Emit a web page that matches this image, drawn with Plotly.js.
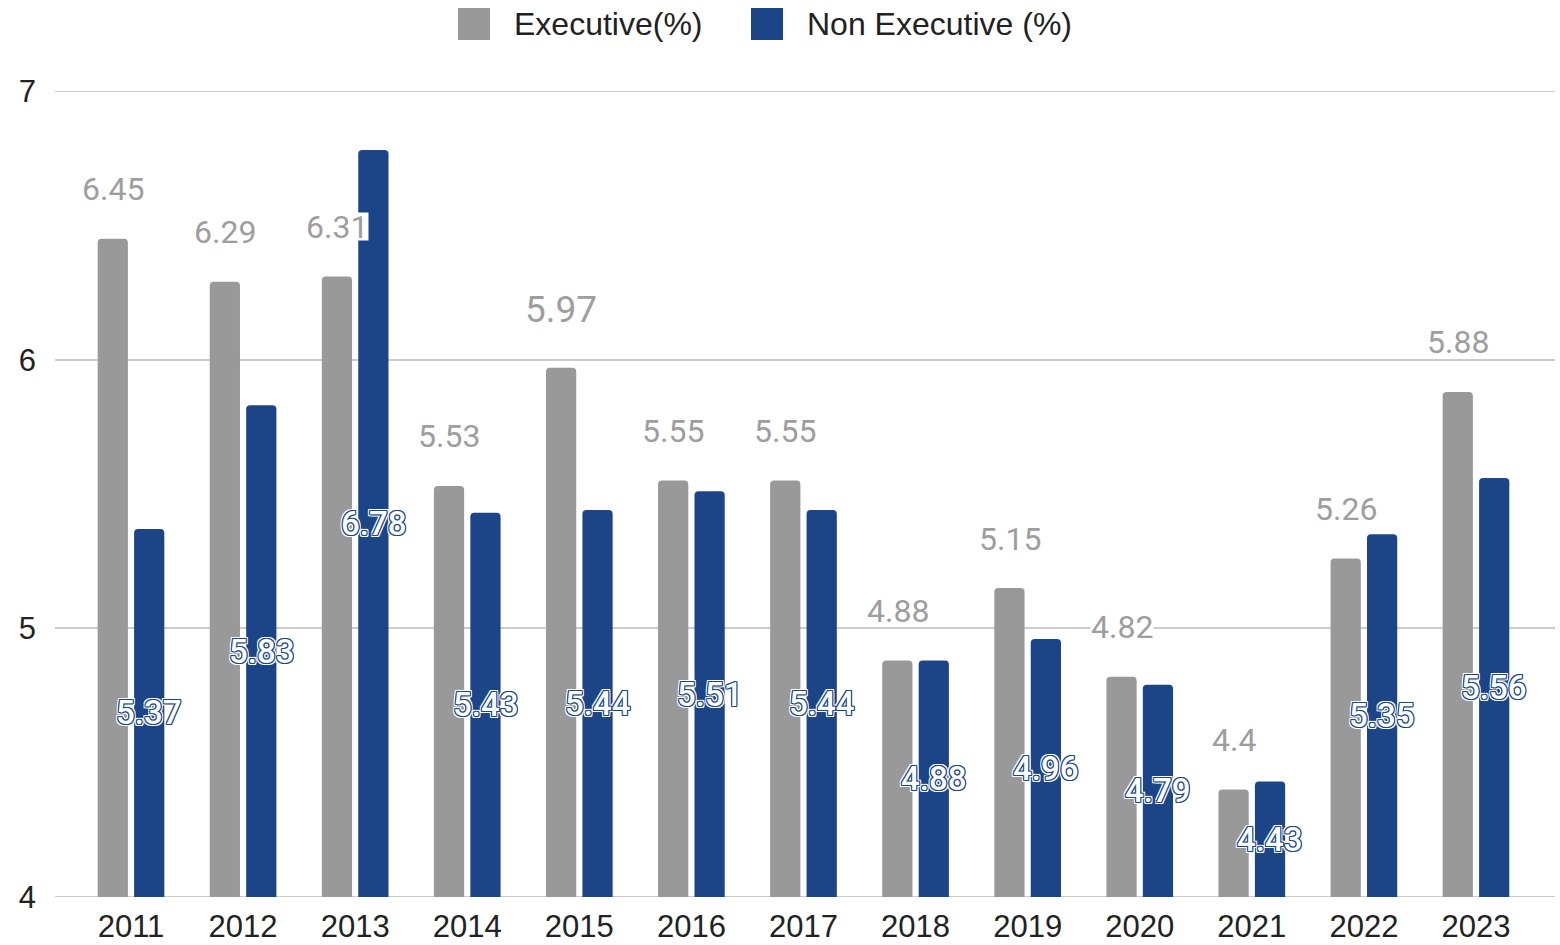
<!DOCTYPE html>
<html>
<head>
<meta charset="utf-8">
<script src="https://cdn.plot.ly/plotly-3.0.1.min.js"></script>
<style>html,body{margin:0;padding:0;background:#fff;}#chart{width:1560px;height:945px;}</style>
</head>
<body>
<div id="chart"></div>
<script>
const years = ['2011','2012','2013','2014','2015','2016','2017','2018','2019','2020','2021','2022','2023'];
const executive = [6.45, 6.29, 6.31, 5.53, 5.97, 5.55, 5.55, 4.88, 5.15, 4.82, 4.4, 5.26, 5.88];
const nonExecutive = [5.37, 5.83, 6.78, 5.43, 5.44, 5.51, 5.44, 4.88, 4.96, 4.79, 4.43, 5.35, 5.56];
const seriesNames = ['Executive(%)', 'Non Executive (%)'];
const yTicks = [4, 5, 6, 7];
const yBase = 4;

const GREY = '#999999';
const BLUE = '#1c4587';
const GRID = '#cccccc';
const axisFont = {family: 'Liberation Sans, Arial, sans-serif', size: 31, color: '#222222'};
const outline = [
  '1px 0 0 ' + BLUE, '-1px 0 0 ' + BLUE, '0 1px 0 ' + BLUE, '0 -1px 0 ' + BLUE,
  '1px 1px 0 ' + BLUE, '-1px -1px 0 ' + BLUE, '1px -1px 0 ' + BLUE, '-1px 1px 0 ' + BLUE,
  '2px 0 0 #fff', '-2px 0 0 #fff', '0 2px 0 #fff', '0 -2px 0 #fff',
  '2px 2px 0 #fff', '-2px -2px 0 #fff', '2px -2px 0 #fff', '-2px 2px 0 #fff'
].join(', ');

const traces = [
  {
    type: 'bar', name: seriesNames[0], x: years, y: executive,
    marker: {color: GREY, cornerradius: 4},
    hoverinfo: 'x+y', showlegend: false
  },
  {
    type: 'bar', name: seriesNames[1], x: years, y: nonExecutive,
    marker: {color: BLUE, cornerradius: 4},
    hoverinfo: 'x+y', showlegend: false
  }
];

// grey labels above the Executive bars
const annotations = executive.map((v, i) => ({
  x: i, y: v, xref: 'x', yref: 'y',
  text: String(v), showarrow: false,
  xshift: -18, yshift: i === 4 ? 58 : 50,
  font: {family: 'Roboto, sans-serif', size: i === 4 ? 37 : 32, color: '#9e9e9e'},
  bgcolor: '#ffffff', borderpad: 0, height: i === 4 ? 31 : 27, valign: 'middle'
}));

// outlined white labels centred in the Non Executive bars
nonExecutive.forEach((v, i) => annotations.push({
  x: i, y: (yBase + v) / 2, xref: 'x', yref: 'y',
  text: String(v), showarrow: false, xshift: 18,
  font: {family: 'Roboto, sans-serif', size: 33, weight: 500, color: '#ffffff', shadow: outline}
}));

// custom legend drawn at the reference's legend position
const legendItems = [
  {color: GREY, x0: 458, text: seriesNames[0], tx: 512},
  {color: BLUE, x0: 751, text: seriesNames[1], tx: 805}
];
const L = 55, W = 1500, T = 91, H = 806;
const px = x => (x - L) / W;
const py = y => (T + H - y) / H;
const shapes = legendItems.map(it => ({
  type: 'rect', xref: 'paper', yref: 'paper',
  x0: px(it.x0), x1: px(it.x0 + 32), y0: py(40), y1: py(8),
  fillcolor: it.color, line: {width: 0}
}));
legendItems.forEach(it => annotations.push({
  xref: 'paper', yref: 'paper', x: px(it.tx), y: py(24),
  xanchor: 'left', yanchor: 'middle', showarrow: false, text: it.text,
  font: {family: 'Liberation Sans, Arial, sans-serif', size: 32, color: '#222222'}
}));

// grid lines at the range ends (plotly omits them at the plot edges)
[yTicks[0], yTicks[yTicks.length - 1]].forEach(t => shapes.push({
  type: 'line', xref: 'paper', yref: 'y', x0: 0, x1: 1, y0: t, y1: t,
  line: {color: GRID, width: 2}, layer: 'below'
}));

const layout = {
  width: 1560, height: 945,
  margin: {l: L, r: 1560 - L - W, t: T, b: 945 - T - H, pad: 0},
  paper_bgcolor: '#ffffff', plot_bgcolor: '#ffffff',
  barmode: 'group', bargap: 0.35, bargroupgap: 0.17,
  showlegend: false,
  xaxis: {
    type: 'category', range: [-0.678, 12.705],
    showgrid: false, zeroline: false, showline: false,
    ticks: '', tickfont: axisFont, ticklabelstandoff: 8, fixedrange: true
  },
  yaxis: {
    range: [4, 7], tickvals: yTicks, ticktext: yTicks.map(String),
    showgrid: true, gridcolor: GRID, gridwidth: 2, zeroline: false, showline: false,
    ticks: '', tickfont: axisFont, ticklabelstandoff: 18, fixedrange: true
  },
  annotations: annotations,
  shapes: shapes
};

Plotly.newPlot('chart', traces, layout, {displayModeBar: false});
</script>
</body>
</html>
